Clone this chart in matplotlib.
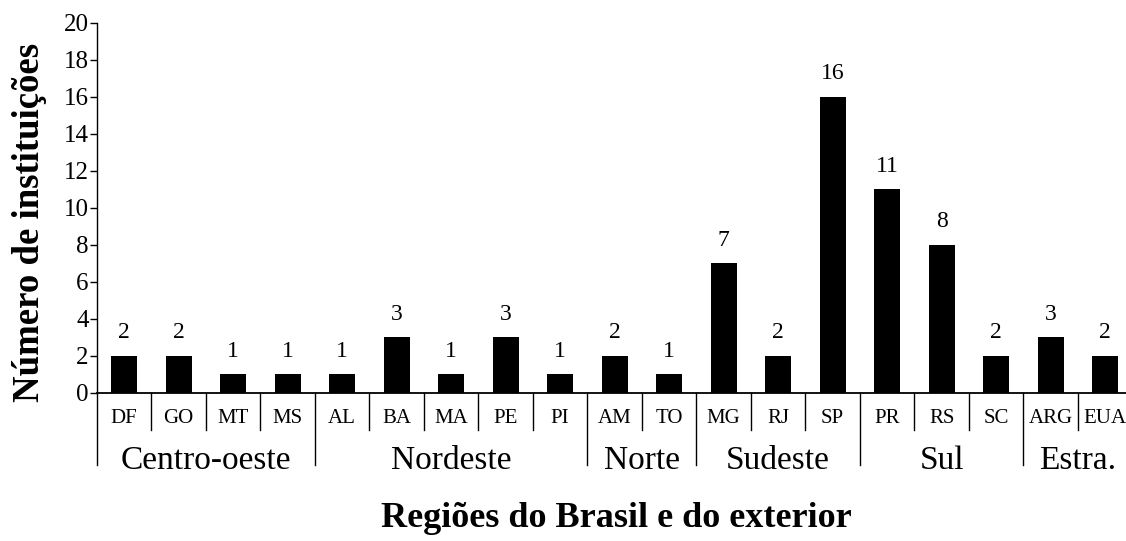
import matplotlib.pyplot as plt
import matplotlib.transforms as mtransforms

plt.rcParams['font.family'] = ['Liberation Serif', 'DejaVu Serif']

# dados
estados = ['DF', 'GO', 'MT', 'MS', 'AL', 'BA', 'MA', 'PE', 'PI', 'AM', 'TO',
           'MG', 'RJ', 'SP', 'PR', 'RS', 'SC', 'ARG', 'EUA']
instituicoes = [2, 2, 1, 1, 1, 3, 1, 3, 1, 2, 1, 7, 2, 16, 11, 8, 2, 3, 2]
regioes = ['Centro-oeste', 'Nordeste', 'Norte', 'Sudeste', 'Sul', 'Estra.']
n_por_regiao = [4, 5, 2, 3, 3, 2]

fig = plt.figure(figsize=(11.26, 5.41), dpi=100)
# o eixo continua um pouco além da borda direita, como no original
ax = fig.add_axes([0.0861, 0.2736, 0.9196, 0.6839])

x = list(range(len(estados)))
bars = ax.bar(x, instituicoes, width=0.48, color='black')
ax.bar_label(bars, labels=[str(v) for v in instituicoes], padding=9, fontsize=17)

ax.set_xlim(-0.5, len(estados) - 0.5)
ax.set_ylim(0, 20)
ax.set_yticks(range(0, 21, 2))
ax.tick_params(axis='y', labelsize=18, length=5, width=1, direction='out', pad=1)
ax.set_xticks([])
for s in ['top', 'right']:
    ax.spines[s].set_visible(False)
ax.spines['left'].set_linewidth(1)
ax.spines['bottom'].set_linewidth(1.3)

trans = mtransforms.blended_transform_factory(ax.transData, ax.transAxes)

# rótulos dos estados
for i, e in enumerate(estados):
    ax.text(i, -0.068, e, transform=trans, ha='center', va='center', fontsize=15)

# linhas separadoras
limites = [0]
for n in n_por_regiao:
    limites.append(limites[-1] + n)
for k in range(len(estados)):
    borda = k - 0.5
    fim = -0.195 if k in limites else -0.10
    ax.plot([borda, borda], [0, fim], transform=trans, color='black', lw=1, clip_on=False)

# rótulos das regiões
for r, a, b in zip(regioes, limites[:-1], limites[1:]):
    ax.text((a + b - 1) / 2, -0.184, r, transform=trans, ha='center', va='center', fontsize=24)

fig.text(0.026, 0.588, 'Número de instituições', rotation=90, ha='center', va='center',
         fontsize=26.5, fontweight='bold')
fig.text(0.547, 0.0425, 'Regiões do Brasil e do exterior', ha='center', va='center',
         fontsize=26, fontweight='bold')

plt.savefig('out.png', dpi=100)
